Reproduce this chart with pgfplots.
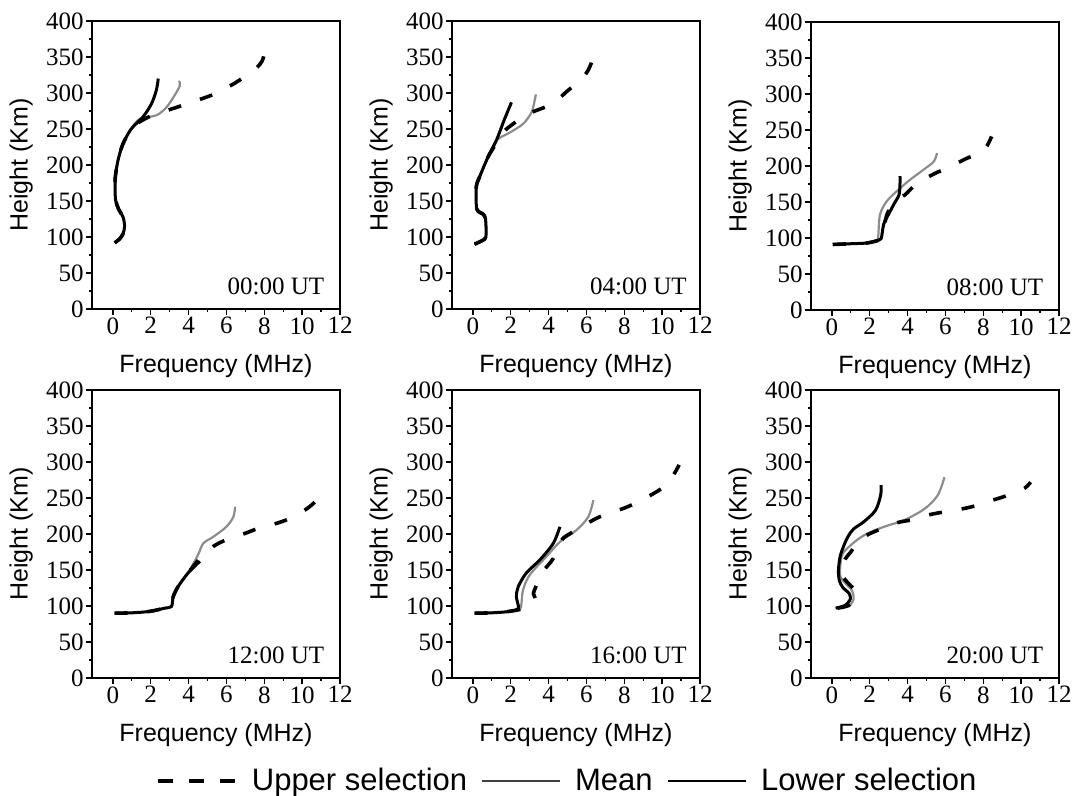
\documentclass[border=0pt]{standalone}
\usepackage{fontspec}
\setmainfont{Liberation Serif}
\newfontfamily\arial{Liberation Sans}
\usepackage{pgfplots}
\pgfplotsset{compat=1.18}

\pgfplotsset{
  panel/.style={
    width=124pt, height=144pt, scale only axis,
    xmin=-1.1, xmax=12, ymin=0, ymax=400,
    xtick={0,2,...,12}, ytick={0,50,...,400},
    minor x tick num=1, minor y tick num=1,
    tick align=outside, tick pos=left,
    major tick length=3pt, minor tick length=1.6pt,
    axis line style={line width=0.8pt},
    every tick/.append style={line width=0.7pt, black},
    tick label style={font=\fontsize{12.5}{12.5}\selectfont, inner sep=1pt},
    /pgf/number format/assume math mode=true,
    xlabel={Frequency (MHz)}, ylabel={Height (Km)},
    label style={font=\arial\fontsize{12.5}{12.5}\selectfont},
    xlabel style={at={(axis description cs:0.5,-0.198)}, anchor=center},
    ylabel style={at={(axis description cs:-0.286,0.5)}, anchor=center},
    clip=false,
  },
  up/.style={black, line width=1.8pt, dash pattern=on 6.5pt off 10pt, smooth},
  mn/.style={black!45, line width=1.1pt, smooth},
  lo/.style={black, line width=1.5pt, smooth},
}
\tikzset{ut/.style={anchor=east, font=\fontsize{12.5}{12.5}\selectfont}}

\begin{document}
\begin{tikzpicture}
\useasboundingbox (0,0) rectangle (538pt,-398pt);

% 00:00 UT
\begin{axis}[panel, at={(46pt,-10.5pt)}, anchor=north west]
\addplot[mn] coordinates {(0.1,92) (0.35,97) (0.53,104) (0.62,114) (0.55,127) (0.3,139) (0.15,151) (0.12,165) (0.13,183) (0.27,206) (0.53,229) (0.97,250) (1.42,264) (2.3,269) (2.83,280) (3.27,297) (3.54,310) (3.5,317)};
\addplot[lo] coordinates {(0.1,92) (0.35,97) (0.53,104) (0.62,114) (0.55,127) (0.3,139) (0.15,151) (0.12,165) (0.13,183) (0.27,206) (0.53,229) (0.97,250) (1.6,267) (2.04,285) (2.3,304) (2.4,320)};
\addplot[up] coordinates {(0.1,92) (0.35,97) (0.53,104) (0.62,114) (0.55,127) (0.3,139) (0.15,151) (0.12,165) (0.13,183) (0.27,206) (0.53,229) (0.97,250) (1.3,258) (2.0,268) (2.9,276) (3.7,283) (4.7,292) (5.5,300) (6.4,313) (7.1,325) (7.6,335) (7.9,345) (8.05,360)};
\node[ut] at (axis description cs:0.965,0.08) {00:00 UT};
\end{axis}

% 04:00 UT
\begin{axis}[panel, at={(226pt,-10.5pt)}, anchor=north west]
\addplot[mn] coordinates {(0.09,90) (0.62,97) (0.7,104) (0.67,125) (0.53,132) (0.21,139) (0.18,169) (0.35,183) (0.8,211) (1.24,234) (1.95,245) (2.65,257) (3.1,273) (3.27,290) (3.33,298)};
\addplot[lo] coordinates {(0.09,90) (0.62,97) (0.7,104) (0.67,125) (0.53,132) (0.21,139) (0.18,169) (0.35,183) (0.8,211) (1.24,234) (1.65,262) (2.04,287)};
\addplot[up] coordinates {(0.09,90) (0.62,97) (0.7,104) (0.67,125) (0.53,132) (0.21,139) (0.18,169) (0.35,183) (0.8,211) (1.24,230) (1.7,248) (2.5,264) (3.0,272) (4.2,285) (5.0,303) (5.7,318) (6.1,332) (6.35,348)};
\node[ut] at (axis description cs:0.975,0.08) {04:00 UT};
\end{axis}

% 08:00 UT
\begin{axis}[panel, at={(405.5pt,-11pt)}, anchor=north west]
\addplot[mn] coordinates {(0.05,91) (1.0,92) (1.83,93) (2.36,96) (2.45,102) (2.54,132) (2.9,151) (3.6,169) (4.14,181) (4.85,195) (5.38,206) (5.56,218)};
\addplot[lo] coordinates {(0.05,91) (1.0,92) (1.83,93) (2.36,96) (2.6,99) (2.65,105) (2.75,120) (3.0,133) (3.3,148) (3.55,160) (3.6,175) (3.6,186)};
\addplot[up] coordinates {(0.05,91) (1.0,92) (1.83,93) (2.36,96) (2.6,99) (2.7,110) (2.95,135) (3.4,152) (3.87,160) (4.5,176) (5.47,190) (6.1,197) (7.16,211) (7.87,218) (8.2,228) (8.44,241)};
\node[ut] at (axis description cs:0.965,0.08) {08:00 UT};
\end{axis}

% 12:00 UT
\begin{axis}[panel, at={(46pt,-195pt)}, anchor=north west]
\addplot[mn] coordinates {(0.09,90) (1.0,90.5) (1.95,92.5) (2.74,97) (3.1,99.4) (3.19,113) (3.45,127) (3.98,146) (4.5,171) (4.78,187) (5.3,196) (6.0,210) (6.37,224) (6.46,238)};
\addplot[lo] coordinates {(0.09,90) (1.0,90.5) (1.95,92.5) (2.74,97) (3.1,99.4) (3.19,113) (3.45,127) (3.98,146) (4.6,162)};
\addplot[up] coordinates {(0.09,90) (1.0,90.5) (1.95,92.5) (2.74,97) (3.1,99.4) (3.19,113) (3.45,127) (3.98,146) (4.6,166) (5.3,182.6) (6.0,192) (7.0,201) (7.7,208) (8.67,215) (9.38,222) (10.3,236) (10.9,250)};
\node[ut] at (axis description cs:0.965,0.08) {12:00 UT};
\end{axis}

% 16:00 UT
\begin{axis}[panel, at={(226pt,-195pt)}, anchor=north west,
  legend columns=3,
  legend style={at={(axis description cs:0.47,-0.358)}, anchor=center, draw=none, fill=none,
    font=\arial\fontsize{15.5}{15.5}\selectfont, column sep=5pt, inner sep=0pt},
  legend image code/.code={\draw[#1] (0pt,0pt) -- (39pt,0pt);}]
\addlegendimage{black, line width=1.6pt, dash pattern=on 7.5pt off 8pt}
\addlegendentry{Upper selection}
\addlegendimage{black!75, line width=0.9pt}
\addlegendentry{Mean}
\addlegendimage{black, line width=1.2pt}
\addlegendentry{Lower selection}
\addplot[mn, forget plot] coordinates {(0.09,90) (1.0,90.5) (1.95,92.5) (2.48,95) (2.57,104) (2.65,122) (3.0,143) (3.9,169) (4.6,189) (5.5,206) (6.1,224) (6.37,247)};
\addplot[lo, forget plot] coordinates {(0.09,90) (1.0,90.5) (1.95,92.5) (2.4,97) (2.3,113) (2.4,127) (2.83,146) (3.54,164) (4.25,187) (4.6,210)};
\addplot[up, forget plot] coordinates {(0.09,90) (1.0,90.5) (1.9,92.5) (2.6,96) (3.1,102) (3.3,110) (3.2,117) (3.3,125) (3.5,137) (3.7,148) (4.25,166) (4.7,192) (5.3,203) (6.4,220) (7.0,227) (8.0,236) (8.6,243) (9.6,257) (10.2,268) (10.6,282) (10.9,296)};
\node[ut] at (axis description cs:0.975,0.08) {16:00 UT};
\end{axis}

% 20:00 UT
\begin{axis}[panel, at={(405.5pt,-195pt)}, anchor=north west]
\addplot[mn] coordinates {(0.3,97) (0.9,100) (1.15,110) (1.05,122) (0.7,132) (0.44,143) (0.53,170) (0.98,184) (1.69,198) (2.75,210) (3.8,219) (4.9,235) (5.6,254) (5.95,279)};
\addplot[lo] coordinates {(0.2,97) (0.71,101) (0.98,110) (0.9,118) (0.6,125) (0.4,135) (0.35,150) (0.45,170) (0.7,188) (0.89,198) (1.15,207) (1.69,217) (2.31,233) (2.58,254) (2.6,268)};
\addplot[up] coordinates {(0.3,97) (0.9,101) (1.2,112) (1.3,120) (1.0,128) (0.6,140) (0.5,150) (0.7,165) (1.0,175) (1.4,190) (1.9,199) (2.5,206) (3.5,216) (4.2,219.5) (5.2,227) (6.0,231) (7.0,235.5) (7.7,240) (8.5,247) (9.1,252) (10.0,261) (10.3,266) (10.5,272)};
\node[ut] at (axis description cs:0.965,0.08) {20:00 UT};
\end{axis}
\end{tikzpicture}
\end{document}
